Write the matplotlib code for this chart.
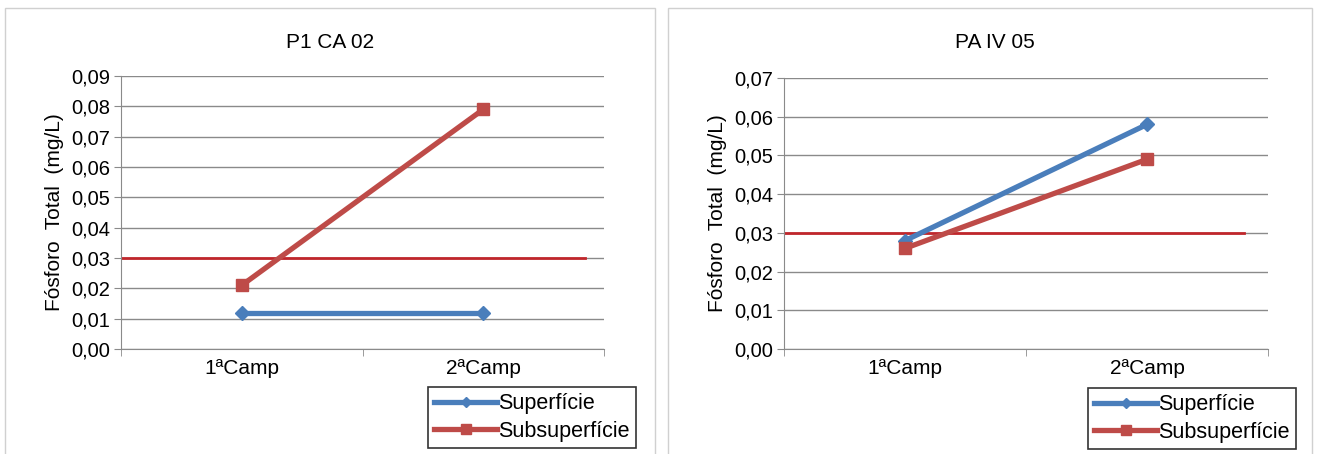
import matplotlib.pyplot as plt
from matplotlib.patches import Rectangle
from matplotlib.ticker import FuncFormatter

plt.rcParams["font.family"] = ["Liberation Sans", "DejaVu Sans"]

campanhas = ["1ªCamp", "2ªCamp"]
series_names = ["Superfície", "Subsuperfície"]

# P1 CA 02
p1_superficie = [0.012, 0.012]
p1_subsuperficie = [0.021, 0.079]

# PA IV 05
pa_superficie = [0.028, 0.058]
pa_subsuperficie = [0.026, 0.049]

limite = 0.03

W, H = 1317, 454
fig = plt.figure(figsize=(W / 100, H / 100), dpi=100)
fig.patch.set_facecolor("white")

# panel frames
for x0, x1 in [(5, 655), (668, 1312)]:
    fig.patches.append(Rectangle((x0 / W, -0.01), (x1 - x0) / W, (H - 8) / H + 0.01,
                                 transform=fig.transFigure, fill=False,
                                 edgecolor="#d0d0d0", linewidth=1))

blue = "#4a7ebb"
red = "#be4b48"
ref_red = "#c0262b"
grid_c = "#8a8a8a"
fmt = FuncFormatter(lambda v, p: f"{v:.2f}".replace(".", ","))


def panel(rect, title, sup, sub, ymax, ref_end, title_x, legend_box):
    l, r, t, b = rect
    ax = fig.add_axes([l / W, (H - b) / H, (r - l) / W, (b - t) / H])
    x = range(len(campanhas))
    ax.set_xlim(-0.5, 1.5)
    ax.set_ylim(0, ymax)
    ax.set_yticks([i / 100 for i in range(int(round(ymax * 100)) + 1)])
    ax.yaxis.set_major_formatter(fmt)
    ax.grid(axis="y", color=grid_c, linewidth=1)
    ax.set_axisbelow(True)
    for s in ["top", "right"]:
        ax.spines[s].set_visible(False)
    for s in ["left", "bottom"]:
        ax.spines[s].set_color(grid_c)
    ax.set_xticks(list(x))
    ax.set_xticklabels(campanhas, fontsize=15)
    ax.set_xticks([-0.5, 0.5, 1.5], minor=True)
    ax.tick_params(axis="x", which="major", length=0, pad=7)
    ax.tick_params(axis="x", which="minor", length=5, color=grid_c)
    ax.tick_params(axis="y", length=5, color=grid_c, labelsize=14.5, pad=3)
    ax.set_ylabel("Fósforo  Total  (mg/L)", fontsize=15, labelpad=5)
    ax.axhline(limite, xmin=0, xmax=ref_end, color=ref_red, linewidth=2, zorder=2)
    h1, = ax.plot(x, sup, color=blue, linewidth=3.8, marker="D", markersize=7,
                  label=series_names[0], zorder=3)
    h2, = ax.plot(x, sub, color=red, linewidth=3.8, marker="s", markersize=9,
                  label=series_names[1], zorder=4)
    fig.text(title_x / W, (H - 43) / H, title, ha="center", va="center", fontsize=15)
    lx0, ly0, lx1, ly1 = legend_box
    leg = fig.legend([h1, h2], series_names, loc="upper left",
                     bbox_to_anchor=(lx0 / W, (H - ly0) / H), fontsize=15.5,
                     frameon=True, fancybox=False, handlelength=2.9,
                     handletextpad=0.05, borderpad=0.3, labelspacing=0.3,
                     borderaxespad=0, markerscale=0.8)
    leg.get_frame().set_edgecolor("black")
    leg.get_frame().set_linewidth(1.2)
    return ax


panel((121, 604, 76, 349), "P1 CA 02", p1_superficie, p1_subsuperficie, 0.09, 0.96, 330,
      (428, 387, 640, 452))
panel((784, 1268, 78, 349), "PA IV 05", pa_superficie, pa_subsuperficie, 0.07, 0.95, 995,
      (1088, 388, 1310, 452))

fig.savefig("out.png", dpi=100)
